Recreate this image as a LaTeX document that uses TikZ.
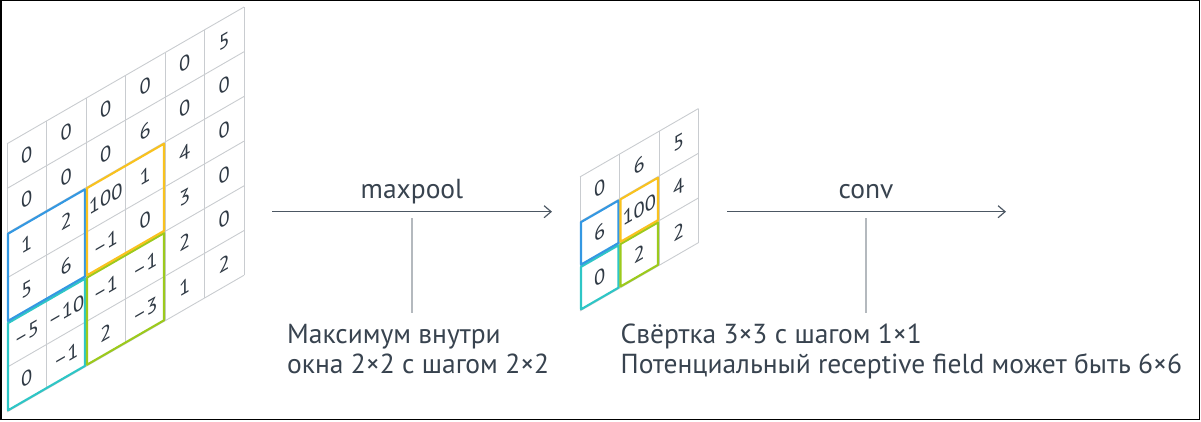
\documentclass[tikz,border=0pt]{standalone}
\usepackage{fontspec}
\setmainfont{PT Sans}
\usetikzlibrary{arrows.meta}

\definecolor{gridGray}{HTML}{C9CCD0}
\definecolor{digitGray}{HTML}{2F3944}
\definecolor{textGray}{HTML}{38434F}
\definecolor{arrowGray}{HTML}{4C5763}
\definecolor{leaderGray}{HTML}{B4B9BE}
\definecolor{poolBlue}{HTML}{3498E2}
\definecolor{poolCyan}{HTML}{2EC6C6}
\definecolor{poolYellow}{HTML}{F9C21E}
\definecolor{poolGreen}{HTML}{9CCA1C}

\begin{document}
\begin{tikzpicture}[x=1pt, y=-1pt,
	cellLine/.style={draw=gridGray, line width=0.9pt},
	cellValue/.style={transform shape, text=digitGray, inner sep=0pt,
		font=\fontsize{20.5}{20.5}\selectfont},
	poolBox/.style={line width=2.1pt, line join=round},
	flowArrow/.style={draw=arrowGray, line width=1.2pt,
		-{Straight Barb[length=7pt, width=12pt, line width=1.2pt]}},
	leaderLine/.style={draw=leaderGray, line width=1.2pt},
	opLabel/.style={text=textGray, inner sep=0pt, anchor=base,
		font=\fontsize{27.5}{30}\selectfont},
	noteLine/.style={text=textGray, inner sep=0pt, anchor=base west,
		font=\fontsize{27.5}{30}\selectfont}]

	\useasboundingbox (0,0) rectangle (1201,422);
	\draw[black, line width=1.5pt] (0.75,0.75) rectangle (1199.5,419.5);

	%Input feature map 6x6
	\begin{scope}[shift={(7,143.8)}, yslant=0.577, x=39.5pt, y=-44.7pt]
		\foreach \k in {0,...,6} {
			\draw[cellLine] (\k,0) -- (\k,6);
			\draw[cellLine] (0,\k) -- (6,\k);
		}
		\foreach \row [count=\r from 0] in {{0,0,0,0,0,5},{0,0,0,6,0,0},
			{1,2,100,1,4,0},{5,6,–1,0,3,0},{–5,–10,–1,–1,2,0},{0,–1,2,–3,1,2}} {
			\foreach \val [count=\c from 0] in \row {
				\node[cellValue] (inCell-\r-\c) at (\c+0.5,\r+0.5) {\val};
			}
		}
		%Pooling windows
		\draw[poolBox, draw=poolCyan] (0.025,4.025) -- (1.975,4.025) -- (1.975,5.975) -- (0.025,5.975) -- cycle;
		\draw[poolBox, draw=poolGreen] (2.025,4.025) -- (3.975,4.025) -- (3.975,5.975) -- (2.025,5.975) -- cycle;
		\draw[poolBox, draw=poolBlue] (0.025,2.025) -- (1.975,2.025) -- (1.975,3.975) -- (0.025,3.975) -- cycle;
		\draw[poolBox, draw=poolYellow] (2.025,2.025) -- (3.975,2.025) -- (3.975,3.975) -- (2.025,3.975) -- cycle;
	\end{scope}

	%Pooled feature map 3x3
	\begin{scope}[shift={(580,176.9)}, yslant=0.577, x=39.5pt, y=-44.7pt]
		\foreach \k in {0,...,3} {
			\draw[cellLine] (\k,0) -- (\k,3);
			\draw[cellLine] (0,\k) -- (3,\k);
		}
		\foreach \row [count=\r from 0] in {{0,6,5},{6,100,4},{0,2,2}} {
			\foreach \val [count=\c from 0] in \row {
				\node[cellValue] (outCell-\r-\c) at (\c+0.5,\r+0.5) {\val};
			}
		}
		\draw[poolBox, draw=poolCyan] (0.025,2.025) -- (0.975,2.025) -- (0.975,2.975) -- (0.025,2.975) -- cycle;
		\draw[poolBox, draw=poolGreen] (1.025,2.025) -- (1.975,2.025) -- (1.975,2.975) -- (1.025,2.975) -- cycle;
		\draw[poolBox, draw=poolBlue] (0.025,1.025) -- (0.975,1.025) -- (0.975,1.975) -- (0.025,1.975) -- cycle;
		\draw[poolBox, draw=poolYellow] (1.025,1.025) -- (1.975,1.025) -- (1.975,1.975) -- (1.025,1.975) -- cycle;
	\end{scope}

	%Maxpool step
	\coordinate (poolStart) at (272,211.7);
	\coordinate (poolEnd) at (552,211.7);
	\draw[flowArrow] (poolStart) -- (poolEnd);
	\node (poolLabel) at (412,198) [opLabel]{maxpool};
	\coordinate (poolTick) at (412,218);
	\coordinate (poolFoot) at (412,313);
	\draw[leaderLine] (poolTick) -- (poolFoot);
	\node (poolNoteA) at (287,343) [noteLine]{Максимум внутри};
	\node (poolNoteB) at (287,373) [noteLine]{окна 2×2 с шагом 2×2};

	%Conv step
	\coordinate (convStart) at (727,211.7);
	\coordinate (convEnd) at (1006,211.7);
	\draw[flowArrow] (convStart) -- (convEnd);
	\node (convLabel) at (866,198) [opLabel]{conv};
	\coordinate (convTick) at (866,218);
	\coordinate (convFoot) at (866,313);
	\draw[leaderLine] (convTick) -- (convFoot);
	\node (convNoteA) at (620.5,343) [noteLine]{Свёртка 3×3 с шагом 1×1};
	\node (convNoteB) at (620.5,373) [noteLine]{Потенциальный receptive field может быть 6×6};

\end{tikzpicture}
\end{document}
